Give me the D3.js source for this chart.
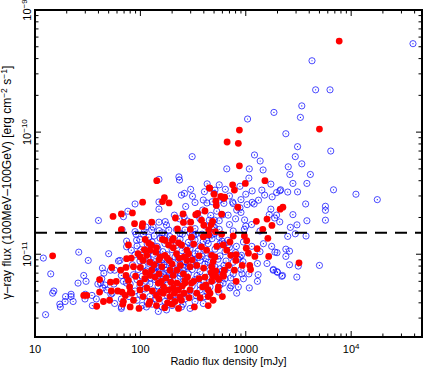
<!DOCTYPE html>
<html>
<head>
<meta charset="utf-8">
<script src="https://cdn.jsdelivr.net/npm/d3@7"></script>
<style>
  body { margin: 0; background: #fff; }
  svg { display: block; }
  text { font-family: "Liberation Sans", Arial, sans-serif; }
</style>
</head>
<body>
<svg id="chart"></svg>
<script>
// gamma fluxes are given in units of 1e-12 erg cm^-2 s^-1, radio in mJy
const FLUX_UNIT = 1e-12;
const radioRange = [10, 47000];
const gammaRange = [2.1e-12, 1e-9];
const thresholdFlux = 1.5e-11;
const xTickValues = [10, 100, 1000, 10000];
const xTickLabels = [['10', ''], ['100', ''], ['1000', ''], ['10', '4']];
const yTickValues = [1e-9, 1e-10, 1e-11];
const yTickLabels = [['10', '\u22129'], ['10', '\u221210'], ['10', '\u221211']];

// open blue circles: [radio mJy, gamma flux / 1e-12]
const blueSources = [
  // bright / radio-loud outskirts
  [38600, 530], [4250, 384], [4600, 222], [6300, 222], [3400, 164], [3300, 132], [1850, 145], [1040, 128],
  [2400, 97], [3100, 76], [6400, 70], [1210, 65], [2950, 63], [1370, 58], [3400, 55], [660, 50], [1080, 50],
  [1460, 49], [2530, 52], [2620, 45], [4100, 45], [1070, 42], [2800, 38], [3800, 38], [6800, 33.7], [11100, 31],
  [17700, 28], [3100, 32.4], [2140, 33.7], [1960, 32], [1780, 29.5], [1510, 30.5], [1420, 33.5], [750, 26.7],
  [3700, 25.8], [5700, 24.7], [5700, 22.9], [1200, 25.8], [1320, 27.7], [2800, 21.1], [3800, 18.8], [5700, 19],
  [2650, 16.6], [2950, 14.7], [2400, 11], [2600, 10.6], [1890, 10.4], [2400, 9.6], [1980, 10.3], [5000, 8.1],
  [3150, 8.0], [2600, 8.2], [1830, 7.5], [1980, 7.2], [2200, 6.6], [3050, 6.5], [1080, 5.3], [820, 4.8],
  [1730, 37.5], [2110, 33.1], [2500, 32.3], [1150, 26.6], [1030, 25.5], [881, 24], [1730, 23.4], [530, 22.5],
  [680, 20.9], [1670, 21.1], [1880, 19.8], [1960, 20.9], [975, 19.1], [1135, 17.5], [2100, 18.4], [1364, 15.5],
  [970, 16.0], [490, 16.8], [465, 20.8], [560, 18.8], [3060, 17.4], [2500, 14.0], [3730, 14.1],
  [725, 5.5], [850, 5.4], [610, 5.8], [635, 6.3], [720, 6.4], [1290, 6.0], [950, 6.3], [920, 6.9], [1070, 6.9],
  [1310, 6.8], [1820, 7.4], [2000, 7.1], [2230, 6.7], [1290, 8.4], [910, 9.8], [850, 9.1], [900, 7.5], [940, 8.7],
  // faint radio end
  [12, 9.3], [14.1, 6.9], [15.1, 5.0], [14.7, 4.8], [12.6, 3.2], [17.4, 3.7], [17.2, 3.9], [19.3, 4.1], [19.5, 4.5],
  [22, 4.7], [22, 4.5], [23, 4.1], [26, 10.4], [32, 8.9], [50, 10.1], [25.6, 5.8], [30, 4.7], [29.8, 4.3], [29, 6.7],
  [30.5, 6.0], [34.7, 4.6], [35, 3.8], [38.2, 4.3], [43.6, 7.7], [45, 7.0], [39.5, 5.7], [42, 5.8], [46, 5.6],
  [56, 5.7], [52.5, 4.7], [66, 3.6], [62, 8.8], [74, 11.5], [66, 6.7], [69, 6.0], [78, 4.5], [40, 18.9], [69, 20.3],
  [76, 22.5], [67, 15.9],
  [269, 24.6], [312, 29.8], [405, 32.5], [510, 33.5], [615, 28.6], [480, 26.9], [620, 26.1], [368, 19.5], [415, 17.0],
  [505, 16.6], [150, 18.3], [177, 17.3], [151, 15.6], [210, 20.9], [280, 18.7], [265, 15.8], [128, 15.8], [109, 15.3],
  [89, 15.3], [74, 12.8], [92, 13.0], [82, 10.8], [64, 8.9], [52, 7.4], [57, 7.4], [43, 6.3], [44, 5.3], [74, 6.5],
  [74, 5.8], [66, 4.3], [66, 3.7], [114, 3.7], [148, 3.4], [177, 3.5], [245, 3.7], [296, 3.6], [57, 3.95], [48, 5.1],
  [54, 4.8],
  [310, 63], [150, 41], [232, 43], [235, 40.5], [430, 37.7], [300, 34], [245, 30.5], [262, 31.5], [150, 26.8],
  [330, 26.5], [89, 25.8], [150, 23.4], [260, 20.2], [428, 26.3], [172, 18.5], [505, 19], [132, 16.7], [113, 16.7],
  [186, 15.8], [91, 14.6], [107, 14.6], [135, 14.1], [162, 15.0], [171, 14.4], [238, 14.8], [296, 14.9], [310, 14.4],
  [336, 14.6], [385, 14.6], [445, 14.3], [505, 14.8],
  [428, 13], [569, 12.2], [675, 13], [815, 11.6], [950, 12.6], [1140, 11.6], [1470, 12.2], [1760, 11.6], [1364, 10.5],
  [881, 9.5], [1590, 8.4], [635, 7.4], [760, 6.9], [569, 5.6], [708, 5.3], [555, 4.9], [395, 3.95],
  [235, 19.5], [340, 21], [390, 23], [450, 19], [600, 21], [700, 17.5], [800, 19.5], [900, 22], [1000, 17], [330, 16.2],
  [220, 15.9], [560, 16.0], [760, 15.5], [395, 27.8], [500, 31.5], [569, 27.8], [700, 30], [760, 26], [820, 23],
  [900, 28], [1000, 31], [1150, 33], [640, 34], [880, 36], [560, 37],
  // dense core
  [99, 13.2], [129, 12.6], [154, 13.5], [183, 12.9], [238, 13.3], [285, 12.5], [330, 13.1], [395, 12.7], [478, 13.4], [595, 12.8],
  [93, 11.7], [116, 12.1], [144, 11.6], [171, 12.2], [218, 11.8], [265, 11.5], [310, 12.0], [368, 11.7], [440, 12.2], [545, 11.6], [680, 11.9],
  [101, 10.9], [123, 10.6], [147, 11.0], [163, 10.5], [200, 10.9], [249, 10.7], [296, 11.1], [353, 10.6], [410, 10.8], [510, 11.0], [635, 10.5],
  [89, 9.9], [111, 9.6], [133, 10.0], [154, 9.7], [179, 9.9], [213, 9.5], [272, 9.8], [330, 10.1], [385, 9.6], [468, 9.9], [569, 9.7], [740, 9.8],
  [99, 8.8], [119, 9.1], [138, 8.7], [161, 9.0], [191, 8.8], [228, 9.1], [265, 8.7], [318, 9.0], [368, 8.9], [440, 8.6], [545, 9.1], [650, 8.8],
  [84, 8.2], [106, 8.0], [123, 8.3], [144, 7.9], [167, 8.2], [200, 8.0], [238, 8.3], [285, 7.9], [338, 8.1], [410, 8.3], [510, 7.9], [620, 8.1],
  [95, 7.5], [113, 7.3], [133, 7.6], [154, 7.2], [179, 7.4], [213, 7.6], [254, 7.3], [310, 7.5], [368, 7.2], [458, 7.4], [569, 7.6],
  [86, 6.8], [104, 6.6], [123, 6.9], [147, 6.7], [171, 6.5], [200, 6.8], [238, 6.6], [285, 6.9], [345, 6.7], [428, 6.5], [520, 6.8],
  [93, 6.2], [113, 6.0], [138, 6.2], [161, 5.9], [191, 6.1], [228, 6.3], [272, 6.0], [330, 6.2], [400, 5.9], [490, 6.1],
  [80, 5.7], [99, 5.5], [123, 5.7], [147, 5.5], [179, 5.6], [213, 5.4], [254, 5.7], [310, 5.5], [368, 5.6], [458, 5.4],
  [89, 5.0], [111, 5.2], [135, 5.0], [161, 5.1], [200, 4.9], [243, 5.2], [296, 5.0], [368, 5.1], [428, 4.9],
  [99, 4.7], [123, 4.5], [147, 4.7], [179, 4.6], [218, 4.5], [272, 4.7], [338, 4.6], [410, 4.5],
  [93, 4.2], [116, 4.1], [141, 4.3], [171, 4.1], [213, 4.2], [265, 4.3], [330, 4.1],
  [104, 3.8], [129, 3.9], [161, 3.7], [200, 3.8], [254, 3.9],
  [118, 9.4], [128, 8.5], [140, 8.0], [150, 7.7], [160, 8.5], [175, 7.8], [190, 7.0], [135, 7.0], [125, 6.4], [145, 6.3],
  [165, 6.9], [185, 6.4], [205, 7.0], [240, 7.0], [260, 7.8], [280, 8.4], [300, 9.3], [350, 9.4], [420, 9.2], [480, 8.2],
  [530, 7.0], [600, 7.3], [700, 7.8], [760, 8.6], [800, 10.3], [700, 11.4], [620, 12.2], [560, 13.8], [480, 14.5],
  [400, 14.0], [320, 14.2], [250, 14.6], [190, 14.0], [160, 14.3], [120, 13.8]
];

// filled red circles: [radio mJy, gamma flux / 1e-12]
const redSources = [
  [7700, 557], [5000, 106], [870, 104], [665, 83], [850, 81], [870, 53], [1520, 40], [990, 38], [750, 37], [780, 33.5],
  [450, 35], [500, 31], [630, 29.3], [2120, 23.4], [2250, 24.3], [590, 21.3], [840, 24.3], [1590, 19.4], [1260, 18.6],
  [1770, 17.2], [1450, 16], [970, 14.1], [1620, 13.5], [760, 14.1], [590, 14.6], [445, 14.4], [1020, 12.9], [1280, 11.1],
  [1650, 9.6], [1220, 9.6], [1060, 10.2], [3200, 8.5], [490, 4.2], [440, 4.5],
  [14.7, 9.7], [29, 4.6], [31, 4.6], [38.5, 3.75], [44.6, 4.1], [51, 4.2], [53.5, 7.8], [41, 6.2], [52, 5.9], [59, 6.0],
  [53, 5.0], [61, 5.0], [67, 4.9], [69, 4.1], [65, 7.4], [73, 7.8], [74, 9.2], [73, 6.7], [72, 4.6], [79, 5.4],
  [55, 20.4], [66, 21.4], [66, 15.9],
  [143, 40], [455, 34.7], [169, 29], [162, 27], [187, 26.3], [105, 26.7], [84, 21.8], [254, 21.4], [335, 21.1], [350, 21.6],
  [410, 22.6], [215, 19.8], [128, 18.3], [88, 17.8], [105, 17.8], [300, 18.3], [380, 19], [400, 17.3], [225, 16.1],
  [470, 17.5], [104, 16.9], [111, 13.2], [162, 13.2], [205, 13.5], [305, 13.8], [395, 13.9], [620, 28.7], [520, 27.3],
  [515, 15.3], [256, 18.2], [580, 29.7], [525, 25.1], [485, 18.6], [445, 15.9], [298, 16],
  [550, 5.4], [545, 5.1], [475, 6.0], [555, 6.2], [810, 6.0], [1010, 11.2], [1110, 7.5], [1090, 8.1], [925, 8.1], [780, 7.4],
  [708, 12.6], [720, 9.8], [810, 9.9], [805, 8.9], [685, 8.1], [625, 7.4], [615, 6.6], [520, 7.3], [470, 7.1], [490, 6.6],
  [120, 12.3], [127, 11.9], [171, 13.0], [201, 13.0], [109, 10.9], [123, 10.8], [142, 11.3], [154, 9.5], [171, 9.8],
  [188, 8.9], [205, 11.3], [220, 10.1], [233, 9.3], [246, 11.9], [276, 10.8], [276, 8.9], [320, 12.1], [380, 11.5],
  [425, 10.8], [82, 9.3], [106, 8.9], [123, 8.6], [296, 7.9], [343, 8.1], [398, 7.7], [475, 7.9], [490, 8.7], [222, 7.4],
  [256, 6.9], [205, 6.7], [123, 6.7], [138, 6.5], [158, 6.0], [166, 5.4], [205, 5.3], [222, 5.8], [265, 5.8], [296, 5.1],
  [343, 4.8], [191, 4.5], [213, 4.1], [238, 4.5], [99, 5.1], [106, 4.5], [80, 4.9], [86, 4.2], [80, 3.7], [97, 3.6],
  [123, 4.1], [142, 3.8], [170, 3.65], [181, 4.0], [325, 3.7], [68, 3.9], [41, 4.9], [390, 5.4], [458, 4.8], [600, 4.5],
  [410, 6.5], [530, 6.5], [610, 6.9], [440, 3.8], [475, 9.8], [610, 11.9], [660, 10.8],
  [77, 11.9], [95, 10.1], [115, 9.8], [86, 7.9], [77, 6.1], [99, 5.8], [83, 4.8], [142, 4.6], [165, 4.8], [148, 5.8],
  [265, 6.1], [440, 5.1], [245, 4.2], [287, 10.1], [128, 7.4], [160, 7.9], [191, 7.4], [230, 5.1], [305, 5.8],
  [530, 11.6], [510, 9.5],
  [100, 7.8], [112, 7.1], [135, 8.2], [150, 9.0], [180, 9.3], [200, 8.3], [240, 8.1], [260, 9.5], [310, 9.0], [360, 9.7],
  [150, 6.9], [175, 6.4], [195, 5.9], [250, 5.5], [280, 6.5], [320, 6.0], [360, 6.3], [115, 5.3], [130, 5.0], [155, 4.9],
  [185, 5.1], [210, 4.8], [260, 4.8], [290, 4.4], [120, 3.9], [150, 4.3], [200, 3.9], [230, 3.6], [110, 6.3], [420, 5.6],
  [370, 4.4], [90, 6.6], [100, 9.5], [140, 10.4], [185, 11.9], [230, 12.4]
];

const svgWidth = 425;
const svgHeight = 368;
const margin = { top: 10, right: 3, bottom: 31, left: 35 };
const plotRight = svgWidth - margin.right;
const plotBottom = svgHeight - margin.bottom;

const svg = d3.select('#chart')
  .attr('width', svgWidth)
  .attr('height', svgHeight);

const x = d3.scaleLog().domain(radioRange).range([margin.left, plotRight]);
const y = d3.scaleLog().domain(gammaRange).range([plotBottom, margin.top]);

const markers = svg.append('g');

// blue: open circle with a dot in the middle
const blue = markers.append('g')
  .selectAll('g')
  .data(blueSources)
  .enter()
  .append('g')
  .attr('transform', d => `translate(${x(d[0])},${y(d[1] * FLUX_UNIT)})`);

blue.append('circle')
  .attr('r', 3.1)
  .attr('fill', 'none')
  .attr('stroke', '#1010ff')
  .attr('stroke-width', 0.75);

blue.append('circle')
  .attr('r', 0.6)
  .attr('fill', '#1010ff');

// red: filled
markers.append('g')
  .selectAll('circle')
  .data(redSources)
  .enter()
  .append('circle')
  .attr('cx', d => x(d[0]))
  .attr('cy', d => y(d[1] * FLUX_UNIT))
  .attr('r', 3.4)
  .attr('fill', '#ff0000');

// threshold line
svg.append('line')
  .attr('x1', margin.left)
  .attr('x2', plotRight)
  .attr('y1', y(thresholdFlux))
  .attr('y2', y(thresholdFlux))
  .attr('stroke', '#000')
  .attr('stroke-width', 2)
  .attr('stroke-dasharray', '12,8');

// minor tick values, 2..9 in each decade
function minors(range) {
  const out = [];
  const lo = Math.floor(Math.log10(range[0]));
  const hi = Math.ceil(Math.log10(range[1]));
  for (let e = lo; e <= hi; e++) {
    for (let m = 2; m <= 9; m++) {
      const v = m * 10 ** e;
      if (v >= range[0] && v <= range[1]) out.push(v);
    }
  }
  return out;
}

const ticks = svg.append('g').attr('stroke', '#000').attr('stroke-width', 1);

function xTicks(values, len) {
  values.forEach((v) => {
    ticks.append('line').attr('x1', x(v)).attr('x2', x(v)).attr('y1', plotBottom).attr('y2', plotBottom - len);
    ticks.append('line').attr('x1', x(v)).attr('x2', x(v)).attr('y1', margin.top).attr('y2', margin.top + len);
  });
}
function yTicks(values, len) {
  values.forEach((v) => {
    ticks.append('line').attr('y1', y(v)).attr('y2', y(v)).attr('x1', margin.left).attr('x2', margin.left + len);
    ticks.append('line').attr('y1', y(v)).attr('y2', y(v)).attr('x1', plotRight).attr('x2', plotRight - len);
  });
}
xTicks(minors(radioRange), 3.5);
xTicks(xTickValues, 6);
yTicks(minors(gammaRange), 3.5);
yTicks(yTickValues, 6);

// frame
svg.append('rect')
  .attr('x', margin.left)
  .attr('y', margin.top)
  .attr('width', plotRight - margin.left)
  .attr('height', plotBottom - margin.top)
  .attr('fill', 'none')
  .attr('stroke', '#000')
  .attr('stroke-width', 2);

// x tick labels
const xLab = svg.append('g')
  .attr('font-size', 11)
  .attr('text-anchor', 'middle')
  .selectAll('text')
  .data(xTickValues)
  .enter()
  .append('text')
  .attr('x', d => x(d))
  .attr('y', plotBottom + 16);
xLab.append('tspan').text((d, i) => xTickLabels[i][0]);
xLab.append('tspan').attr('font-size', 8).attr('dy', -4).text((d, i) => xTickLabels[i][1]);

// y tick labels, rotated
const yLab = svg.append('g')
  .attr('font-size', 11)
  .attr('text-anchor', 'middle')
  .selectAll('text')
  .data(yTickValues)
  .enter()
  .append('text')
  .attr('transform', d => `translate(${margin.left - 4},${y(d)}) rotate(-90)`);
yLab.append('tspan').text((d, i) => yTickLabels[i][0]);
yLab.append('tspan').attr('font-size', 8).attr('dy', -4).text((d, i) => yTickLabels[i][1]);

// axis titles
svg.append('text')
  .attr('x', (margin.left + plotRight) / 2)
  .attr('y', svgHeight - 3)
  .attr('font-size', 11)
  .attr('text-anchor', 'middle')
  .text('Radio flux density [mJy]');

const yTitle = svg.append('text')
  .attr('transform', `translate(11,${(margin.top + plotBottom) / 2 + 9}) rotate(-90)`)
  .attr('font-size', 12)
  .attr('text-anchor', 'middle');
yTitle.append('tspan').text('\u03b3\u2013ray flux (100MeV\u2013100GeV) [erg cm');
yTitle.append('tspan').attr('font-size', 8.5).attr('dy', -4.5).text('\u22122');
yTitle.append('tspan').attr('dy', 4.5).text(' s');
yTitle.append('tspan').attr('font-size', 8.5).attr('dy', -4.5).text('\u22121');
yTitle.append('tspan').attr('dy', 4.5).text(']');
</script>
</body>
</html>
